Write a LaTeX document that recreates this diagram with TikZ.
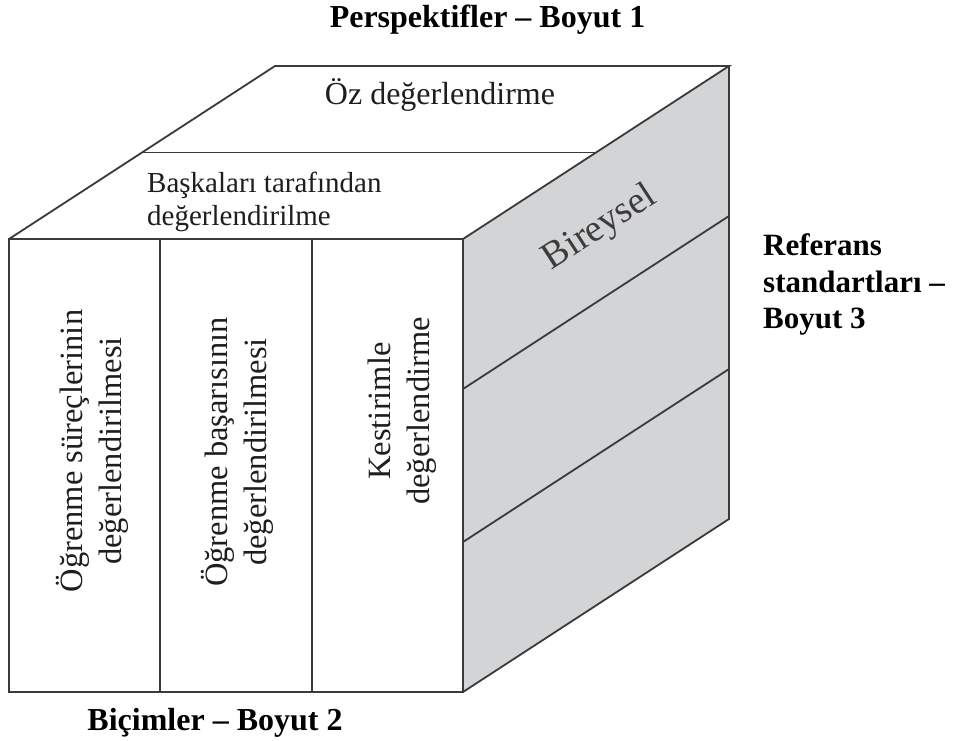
\documentclass[tikz,border=0pt]{standalone}
\usepackage{fontspec}
\setmainfont{Liberation Serif}
\definecolor{linegray}{HTML}{3A3A3A}
\definecolor{sidegray}{HTML}{D3D4D6}
\definecolor{inkgray}{HTML}{1E1E1E}
\definecolor{sidetext}{HTML}{3C3C3C}
\begin{document}
\begin{tikzpicture}[x=1pt,y=-1pt,
  edge/.style={draw=linegray, line width=1.8pt, line join=miter},
  bodytext/.style={inner sep=0pt, text=inkgray},
  vtext/.style={bodytext, rotate=90, align=center, font=\fontsize{32.5}{39}\selectfont},
  dimlabel/.style={inner sep=0pt, text=black, font=\bfseries\fontsize{32}{36.7}\selectfont}]
\useasboundingbox (0,0) rectangle (953,740);

% cube corners
\coordinate (fTL) at (9,239);
\coordinate (fTR) at (463,239);
\coordinate (fBL) at (9,692);
\coordinate (fBR) at (463,692);
\coordinate (bTL) at (275,66);
\coordinate (bTR) at (729,66);
\coordinate (bBR) at (729,519);
% top face split
\coordinate (tmL) at (142,152.5);
\coordinate (tmR) at (596,152.5);
% front face columns
\coordinate (c1t) at (160,239);
\coordinate (c1b) at (160,692);
\coordinate (c2t) at (312,239);
\coordinate (c2b) at (312,692);
% side face rows
\coordinate (r1f) at (463,389);
\coordinate (r1b) at (729,216);
\coordinate (r2f) at (463,542);
\coordinate (r2b) at (729,369);

% faces
\fill[white] (fTL) -- (bTL) -- (bTR) -- (fTR) -- cycle;
\fill[sidegray] (fTR) -- (bTR) -- (bBR) -- (fBR) -- cycle;
\fill[white] (fTL) rectangle (fBR);

% edges
\draw[edge] (fTL) -- (bTL) -- (bTR) -- (fTR);
\draw[edge] (tmL) -- (tmR);
\draw[edge] (bTR) -- (bBR) -- (fBR);
\draw[edge] (r1f) -- (r1b);
\draw[edge] (r2f) -- (r2b);
\draw[edge] (fTL) rectangle (fBR);
\draw[edge] (c1t) -- (c1b);
\draw[edge] (c2t) -- (c2b);

% top face labels
\node[bodytext, anchor=base, font=\fontsize{32}{36}\selectfont] (oz) at (440,104) {Öz değerlendirme};
\node[bodytext, anchor=north west, align=left, font=\fontsize{29}{33}\selectfont] (bask) at (147,172)
  {Başkaları tarafından\\değerlendirilme};

% front face labels
\node[vtext] (col1) at (92,451) {Öğrenme süreçlerinin\\değerlendirilmesi};
\node[vtext] (col2) at (237,452) {Öğrenme başarısının\\değerlendirilmesi};
\node[vtext] (col3) at (402.5,411) {Kestirimle\\değerlendirme};

% side face label
\node[inner sep=0pt, anchor=base, rotate=33, text=sidetext, font=\fontsize{38}{42}\selectfont] (bir) at (605,236) {Bireysel};

% dimension labels
\node[dimlabel, anchor=base] (dim1) at (487.5,27) {Perspektifler – Boyut 1};
\node[dimlabel, anchor=base] (dim2) at (215,730) {Biçimler – Boyut 2};
\node[dimlabel, anchor=north west, align=left, font=\bfseries\fontsize{31}{36.7}\selectfont] (dim3) at (763,233.5)
  {Referans\\standartları –\\Boyut 3};
\end{tikzpicture}
\end{document}
